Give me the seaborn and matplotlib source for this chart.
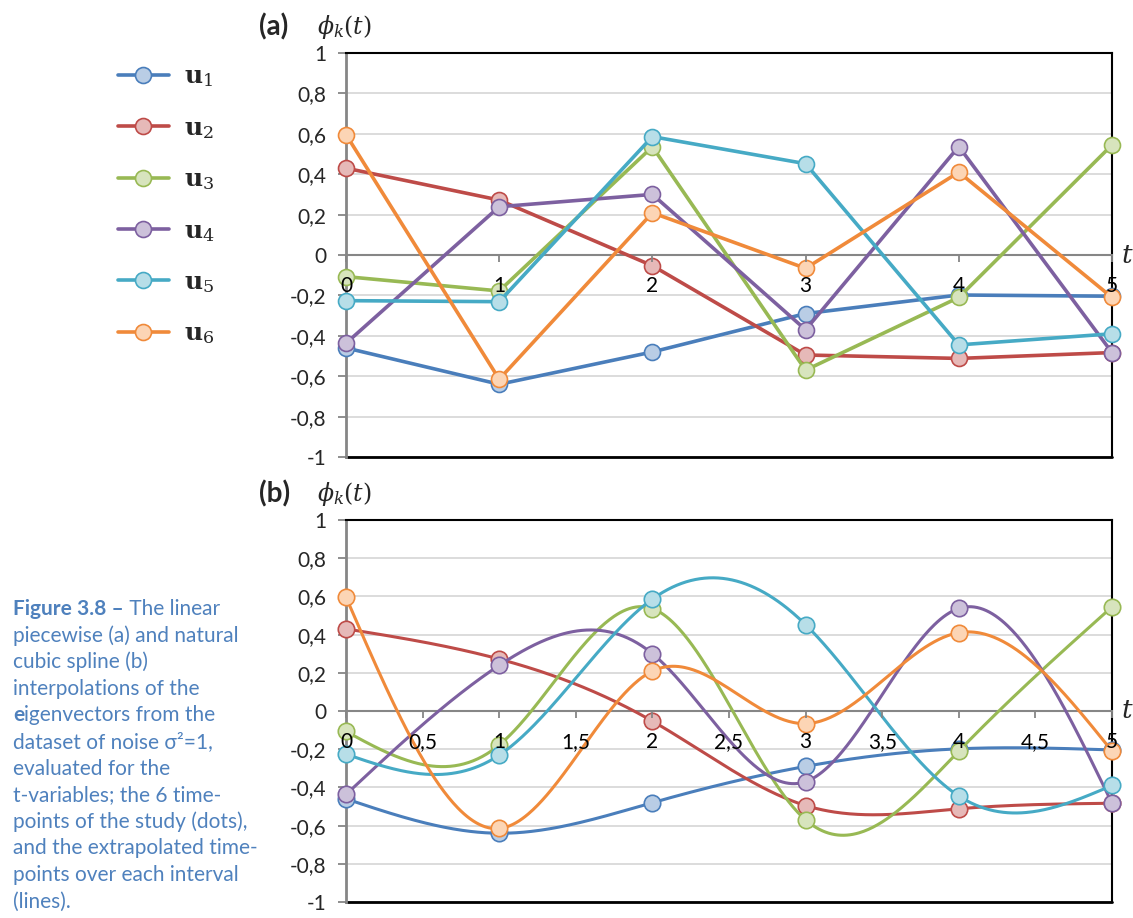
import numpy as np
import pandas as pd
import matplotlib
matplotlib.use("Agg")
import matplotlib.pyplot as plt
import seaborn as sns
from matplotlib.ticker import FuncFormatter, MultipleLocator

# Eigenvector components at the six study time-points
t_points = [0, 1, 2, 3, 4, 5]
u1 = [-0.46, -0.64, -0.48, -0.29, -0.198, -0.204]
u2 = [0.43, 0.272, -0.053, -0.495, -0.512, -0.483]
u3 = [-0.107, -0.178, 0.536, -0.57, -0.21, 0.545]
u4 = [-0.437, 0.239, 0.30, -0.37, 0.537, -0.483]
u5 = [-0.226, -0.231, 0.586, 0.452, -0.445, -0.39]
u6 = [0.596, -0.615, 0.209, -0.066, 0.41, -0.21]

series_labels = [r"$\mathbf{u}_1$", r"$\mathbf{u}_2$", r"$\mathbf{u}_3$",
                 r"$\mathbf{u}_4$", r"$\mathbf{u}_5$", r"$\mathbf{u}_6$"]
line_colors = ["#4A7EBB", "#BE4B48", "#98B954", "#7D60A0", "#46AAC5", "#F08A3A"]
fill_colors = ["#B9CDE5", "#E6B9B8", "#D7E4BD", "#CCC1DA", "#B7DEE8", "#FCD5B5"]

ytick_values = [-1, -0.8, -0.6, -0.4, -0.2, 0, 0.2, 0.4, 0.6, 0.8, 1]

caption_lines = [
    ("Figure 3.8 \u2013", " The linear"),
    ("", "piecewise (a) and natural"),
    ("", "cubic spline (b)"),
    ("", "interpolations of the"),
    ("e", "igenvectors from the"),
    ("", "dataset of noise \u03c3\u00b2=1,"),
    ("", "evaluated for the"),
    ("", "t-variables; the 6 time-"),
    ("", "points of the study (dots),"),
    ("", "and the extrapolated time-"),
    ("", "points over each interval"),
    ("", "(lines)."),
]


def natural_cubic_spline(x, y, x_eval):
    """Natural cubic spline through (x, y), evaluated at x_eval."""
    x = np.asarray(x, float)
    y = np.asarray(y, float)
    n = len(x)
    h = np.diff(x)
    A = np.zeros((n, n))
    rhs = np.zeros(n)
    A[0, 0] = A[-1, -1] = 1.0
    for i in range(1, n - 1):
        A[i, i - 1] = h[i - 1]
        A[i, i] = 2 * (h[i - 1] + h[i])
        A[i, i + 1] = h[i]
        rhs[i] = 6 * ((y[i + 1] - y[i]) / h[i] - (y[i] - y[i - 1]) / h[i - 1])
    M = np.linalg.solve(A, rhs)
    idx = np.clip(np.searchsorted(x, x_eval, side="right") - 1, 0, n - 2)
    x0, x1 = x[idx], x[idx + 1]
    hi = x1 - x0
    a = (x1 - x_eval) / hi
    b = (x_eval - x0) / hi
    return (a * y[idx] + b * y[idx + 1]
            + ((a ** 3 - a) * M[idx] + (b ** 3 - b) * M[idx + 1]) * hi ** 2 / 6)


sns.set_style("white")
plt.rcParams["font.family"] = ["Lato", "DejaVu Sans"]
plt.rcParams["mathtext.fontset"] = "dejavuserif"

W, H = 1133, 918
fig = plt.figure(figsize=(W / 100, H / 100), dpi=100)


def px_axes(left, top, right, bottom):
    return fig.add_axes([left / W, 1 - bottom / H, (right - left) / W, (bottom - top) / H])


ax_a = px_axes(346, 53, 1112, 457)
ax_b = px_axes(346, 520, 1112, 902)

series = [u1, u2, u3, u4, u5, u6]
t_dense = np.linspace(0, 5, 501)

num_fmt = FuncFormatter(lambda v, _: f"{round(v, 2):g}".replace(".", ","))

for ax, smooth in [(ax_a, False), (ax_b, True)]:
    ax.set_xlim(0, 5)
    ax.set_ylim(-1, 1)
    ax.set_yticks(ytick_values)
    ax.xaxis.set_major_locator(MultipleLocator(0.5 if smooth else 1))
    ax.xaxis.set_major_formatter(num_fmt)
    ax.yaxis.set_major_formatter(num_fmt)
    ax.grid(axis="y", color="#D9D9D9", lw=1.3)
    ax.set_axisbelow(True)
    # t-axis labels sit on top of the curves
    ax.xaxis.set_zorder(20)
    ax.spines["bottom"].set_position(("data", 0))
    ax.spines["bottom"].set_color("#868686")
    ax.spines["bottom"].set_linewidth(1.5)
    ax.spines["left"].set_color("#868686")
    ax.spines["left"].set_linewidth(2)
    for s in ("top", "right"):
        ax.spines[s].set_color("black")
        ax.spines[s].set_linewidth(1.5)
    ax.axhline(-1, color="black", lw=2, clip_on=False, zorder=2)
    ax.tick_params(axis="y", direction="out", length=6, width=1.3, color="#868686",
                   pad=8, labelsize=15, left=True)
    ax.tick_params(axis="x", direction="out", length=5, width=1.3, color="#868686",
                   pad=10, labelsize=15, bottom=True, labelcolor="black")

    for k, vals in enumerate(series):
        if smooth:
            sns.lineplot(x=t_dense, y=natural_cubic_spline(t_points, vals, t_dense),
                         color=line_colors[k], lw=2.2, ax=ax, zorder=3 + k,
                         estimator=None, sort=False, clip_on=False)
            sns.scatterplot(x=t_points, y=vals, marker="o", s=140,
                            color=fill_colors[k], edgecolor=line_colors[k],
                            linewidth=1.2, zorder=3 + k, clip_on=False, ax=ax)
        else:
            sns.lineplot(x=t_points, y=vals, color=line_colors[k], lw=2.6, ax=ax,
                         marker="o", markersize=11.5, markerfacecolor=fill_colors[k],
                         markeredgecolor=line_colors[k], markeredgewidth=1.2,
                         zorder=3 + k, estimator=None, sort=False, clip_on=False,
                         label=series_labels[k])
    if ax.get_legend() is not None:
        ax.get_legend().remove()
    ax.set_xlabel("")
    ax.set_ylabel("")
    ax.text(1.012, 0, r"$t$", transform=ax.get_yaxis_transform(), fontsize=19,
            ha="left", va="center")

# panel titles
for ax, tag in [(ax_a, "(a)"), (ax_b, "(b)")]:
    bb = ax.get_position()
    y_top = bb.y1 + 26 / H
    fig.text(259 / W, y_top, tag, fontsize=20, fontweight="bold",
             ha="left", va="center")
    fig.text(317 / W, y_top, r"$\phi_k(t)$", fontsize=17,
             ha="left", va="center")

# legend
handles, labels = ax_a.get_legend_handles_labels()
fig.legend(handles, labels, loc="upper left",
           bbox_to_anchor=(95 / W, 1 - 42 / H), frameon=False,
           fontsize=18, handlelength=2.05, handletextpad=0.6, labelspacing=1.06)

# caption
cap_color = "#4F81BD"
cap_size = 15
y0 = 615
for i, (bold, normal) in enumerate(caption_lines):
    yb = 1 - (y0 + i * 26.6) / H
    if bold:
        tb = fig.text(13 / W, yb, bold, fontsize=cap_size, fontweight="bold",
                      color=cap_color, ha="left", va="baseline")
        ax_b.annotate(normal, xy=(1, 0), xycoords=tb, fontsize=cap_size,
                      color=cap_color, ha="left", va="bottom",
                      annotation_clip=False)
    else:
        fig.text(13 / W, yb, normal, fontsize=cap_size, color=cap_color,
                 ha="left", va="baseline")

fig.savefig("out.png", dpi=100)
